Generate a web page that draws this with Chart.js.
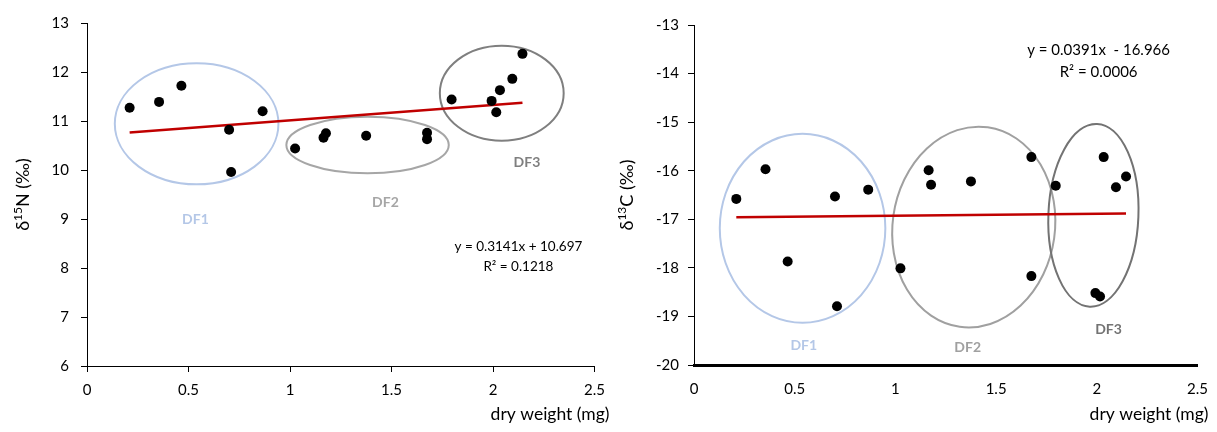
<!DOCTYPE html>
<html>
<head>
<meta charset="utf-8">
<title>Dry weight vs isotopes</title>
<script src="https://cdn.jsdelivr.net/npm/chart.js@4"></script>
<style>
  body { margin: 0; background: #fff; }
  .wrap { display: flex; width: 1217px; height: 432px; }
  canvas { display: block; }
</style>
</head>
<body>
<div class="wrap">
  <canvas id="nChart" width="614" height="432"></canvas>
  <canvas id="cChart" width="603" height="432"></canvas>
</div>
<script>
// Start Data
const dryWeight = [0.21, 0.355, 0.465, 0.70, 0.71, 0.865, 1.025, 1.165, 1.177, 1.375, 1.675, 1.675, 1.796, 1.993, 2.016, 2.034, 2.095, 2.145];
const d15N = [11.27, 11.39, 11.72, 10.82, 9.96, 11.20, 10.44, 10.66, 10.75, 10.70, 10.76, 10.63, 11.44, 11.41, 11.18, 11.63, 11.86, 12.37];
const d13C = [-16.58, -15.97, -17.87, -16.53, -18.79, -16.39, -18.01, -15.99, -16.29, -16.22, -15.72, -18.17, -16.31, -18.52, -18.59, -15.72, -16.34, -16.12];

const weightTicks = [0, 0.5, 1, 1.5, 2, 2.5];
const nTicks = [6, 7, 8, 9, 10, 11, 12, 13];
const cTicks = [-20, -19, -18, -17, -16, -15, -14, -13];
const groupNames = ["DF1", "DF2", "DF3"];

const nFit = { slope: 0.3141, intercept: 10.697, r2: 0.1218 };
const cFit = { slope: 0.0391, intercept: -16.966, r2: 0.0006 };
// End Data

Chart.defaults.font.family = "Lato";
Chart.defaults.color = "#000";

const groupColors = ["#b4c7e7", "#a6a6a6", "#7f7f7f"];

// ellipses round each group, plus the group name
const groupPlugin = {
  id: "groups",
  beforeDatasetsDraw(chart, args, opts) {
    const { ctx, scales: { x, y } } = chart;
    ctx.save();
    opts.rings.forEach((g, i) => {
      const px = x.getPixelForValue(g.cx);
      const py = y.getPixelForValue(g.cy);
      const rx = Math.abs(x.getPixelForValue(g.cx + g.rx) - px);
      const ry = Math.abs(y.getPixelForValue(g.cy + g.ry) - py);
      ctx.beginPath();
      ctx.ellipse(px, py, rx, ry, g.rot || 0, 0, Math.PI * 2);
      ctx.strokeStyle = g.color || groupColors[i];
      ctx.lineWidth = 2;
      ctx.stroke();
      ctx.fillStyle = g.color || groupColors[i];
      ctx.font = "bold 14px Lato";
      ctx.textAlign = "center";
      ctx.textBaseline = "middle";
      ctx.fillText(groupNames[i], x.getPixelForValue(g.tx), y.getPixelForValue(g.ty));
    });
    ctx.restore();
  },
};

// axis titles (with superscript) and the regression equation
const textPlugin = {
  id: "texts",
  afterDraw(chart, args, opts) {
    const { ctx, chartArea, scales: { x, y } } = chart;
    ctx.save();
    ctx.fillStyle = "#000";

    // y title, rotated
    const parts = opts.yTitle;
    let total = 0;
    parts.forEach(p => {
      ctx.font = p.sup ? "12px Lato" : "18px Lato";
      p.w = ctx.measureText(p.t).width;
      total += p.w;
    });
    ctx.translate(opts.yTitleX, (chartArea.top + chartArea.bottom) / 2);
    ctx.rotate(-Math.PI / 2);
    ctx.textBaseline = "middle";
    ctx.textAlign = "left";
    let cx = -total / 2;
    parts.forEach(p => {
      ctx.font = p.sup ? "12px Lato" : "18px Lato";
      ctx.fillText(p.t, cx, p.sup ? -5 : 0);
      cx += p.w;
    });
    ctx.setTransform(1, 0, 0, 1, 0, 0);

    // x title, right aligned past the axis end
    ctx.font = "17.5px Lato";
    ctx.textAlign = "right";
    ctx.fillText("dry weight (mg)", chartArea.right + opts.xTitleShift, 414);

    // equation
    const f = opts.fit;
    const sign = f.intercept < 0 ? "  - " : " + ";
    const eq = "y = " + f.slope + "x" + sign + Math.abs(f.intercept);
    ctx.font = opts.eqFont;
    ctx.textAlign = "center";
    const ex = x.getPixelForValue(opts.eqAt[0]);
    const ey = y.getPixelForValue(opts.eqAt[1]);
    ctx.fillText(eq, ex, ey);
    ctx.fillText("R\u00B2 = " + f.r2, ex, ey + opts.eqGap);
    ctx.restore();
  },
};

function isoChart(id, values, fit, yTicks, o) {
  const pts = dryWeight.map((w, i) => ({ x: w, y: values[i] }));
  const lo = Math.min(...dryWeight);
  const hi = Math.max(...dryWeight);
  const trend = [lo, hi].map(w => ({ x: w, y: fit.slope * w + fit.intercept }));

  return new Chart(document.getElementById(id), {
    type: "scatter",
    data: {
      datasets: [
        { data: pts, backgroundColor: "#000", borderWidth: 0, pointRadius: 5, pointHoverRadius: 5, order: 0 },
        { data: trend, showLine: true, borderColor: "#c00000", borderWidth: 2.5, pointRadius: 0, order: 1 },
      ],
    },
    options: {
      responsive: false,
      animation: false,
      layout: { padding: { top: o.top, right: o.right, left: 0, bottom: 0 } },
      scales: {
        x: {
          type: "linear",
          min: 0,
          max: 2.5,
          afterBuildTicks: s => { s.ticks = weightTicks.map(v => ({ value: v })); },
          afterFit: s => { s.height = 432 - o.bottom; },
          grid: { drawOnChartArea: false, tickLength: 6, color: o.xTickColor, tickColor: o.xTickColor },
          border: { color: "#000", width: o.xBorder },
          ticks: { font: { size: 15 }, padding: 9, maxRotation: 0, callback: v => String(v) },
        },
        y: {
          type: "linear",
          min: yTicks[0],
          max: yTicks[yTicks.length - 1],
          afterBuildTicks: s => { s.ticks = yTicks.map(v => ({ value: v })); },
          afterFit: s => { s.width = o.left; },
          grid: { drawOnChartArea: false, tickLength: 6, color: "#000" },
          border: { color: "#000", width: 1 },
          ticks: { font: { size: 15 }, padding: o.yPad, callback: v => String(v) },
        },
      },
      plugins: {
        legend: { display: false },
        tooltip: { enabled: false },
        groups: { rings: o.rings },
        texts: o.texts,
      },
    },
    plugins: [groupPlugin, textPlugin],
  });
}

// Start d15N Chart
const nChart = isoChart("nChart", d15N, nFit, nTicks, {
  top: 23, right: 17, left: 87, bottom: 366, yPad: 12, xBorder: 1, xTickColor: "#000",
  rings: [
    { cx: 0.54, cy: 10.943, rx: 0.403, ry: 1.235, tx: 0.534, ty: 9.0 },
    { cx: 1.382, cy: 10.51, rx: 0.40, ry: 0.578, tx: 1.47, ty: 9.347 },
    { cx: 2.043, cy: 11.567, rx: 0.305, ry: 0.969, tx: 2.167, ty: 10.163 },
  ],
  texts: {
    yTitle: [{ t: "\u03B4" }, { t: "15", sup: true }, { t: "N (\u2030)" }],
    yTitleX: 23, xTitleShift: 15,
    fit: nFit, eqAt: [2.125, 8.43], eqGap: 20, eqFont: "13.5px Lato",
  },
});
// End d15N Chart

// Start d13C Chart
const cChart = isoChart("cChart", d13C, cFit, cTicks, {
  top: 25, right: 14, left: 80, bottom: 365, yPad: 9, xBorder: 3, xTickColor: "rgba(0,0,0,0)",
  rings: [
    { cx: 0.539, cy: -17.185, rx: 0.411, ry: 1.944, tx: 0.545, ty: -19.593 },
    { cx: 1.389, cy: -17.16, rx: 0.403, ry: 2.074, rot: 0.14, tx: 1.359, ty: -19.634, color: "#a0a0a0" },
    { cx: 1.983, cy: -16.918, rx: 0.2235, ry: 1.883, rot: 0.04, tx: 2.058, ty: -19.279, color: "#737373" },
  ],
  texts: {
    yTitle: [{ t: "\u03B4" }, { t: "13", sup: true }, { t: "C (\u2030)" }],
    yTitleX: 13, xTitleShift: 11,
    fit: cFit, eqAt: [2.009, -13.515], eqGap: 22, eqFont: "15px Lato",
  },
});
// End d13C Chart
</script>
</body>
</html>
